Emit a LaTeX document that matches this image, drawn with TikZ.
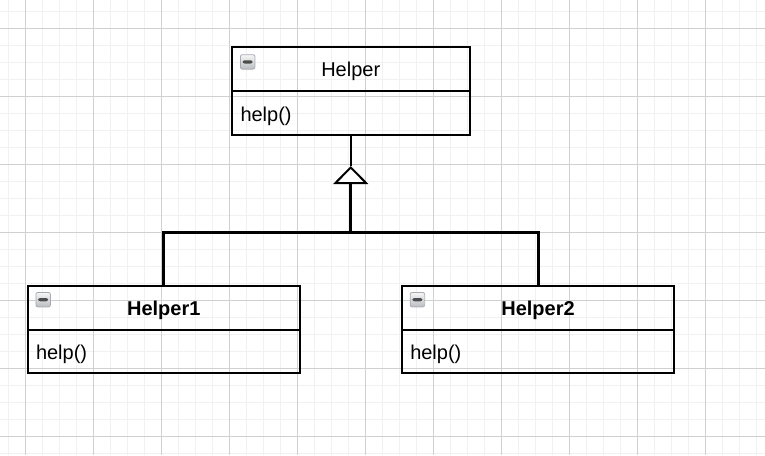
\documentclass[tikz,border=0pt]{standalone}
\usepackage{fontspec}
\setmainfont{Liberation Sans}
\usetikzlibrary{positioning,arrows.meta}
\pgfdeclarelayer{bg}
\pgfsetlayers{bg,main}
\definecolor{gridmajor}{HTML}{D0D0D0}
\definecolor{gridminor}{HTML}{F1F1F1}
\definecolor{icongray}{HTML}{A8ACB0}
\tikzset{
  classhead/.style={draw,line width=2pt,minimum width=#1,minimum height=44pt,inner sep=0pt,outer sep=0pt,
    text height=15pt,text depth=0pt,font=\fontsize{20}{23}\selectfont},
  classbody/.style={draw,line width=2pt,text width=#1,align=left,minimum height=43.5pt,inner xsep=8.5pt,
    inner ysep=0pt,outer sep=0pt,text height=16pt,text depth=0pt,font=\fontsize{20}{23}\selectfont},
  minusbox/.style={draw=icongray,line width=0.8pt,rounded corners=2pt,top color=white!90!icongray,bottom color=icongray!80,
    minimum size=14.5pt,inner sep=0pt,
    path picture={\fill[black!70] ([xshift=-5pt,yshift=-1.6pt]path picture bounding box.center)
      rectangle ([xshift=5pt,yshift=1.6pt]path picture bounding box.center);}},
  genline/.style={line width=3pt},
}

\begin{document}
\begin{tikzpicture}[x=1pt,y=-1pt]
\useasboundingbox (0,0) rectangle (765,455);
\begin{pgfonlayer}{bg}
  \fill[white] (0,0) rectangle (765,455);
  \foreach \x in {8.5,25.5,...,765} \draw[gridminor,line width=1.5pt] (\x,0) -- (\x,455);
  \foreach \y in {11.5,28.5,...,455} \draw[gridminor,line width=1.5pt] (0,\y) -- (765,\y);
  \foreach \x in {25.5,93.5,...,765} \draw[gridmajor,line width=1pt] (\x,0) -- (\x,455);
  \foreach \y in {28.5,96.5,...,455} \draw[gridmajor,line width=1pt] (0,\y) -- (765,\y);
\end{pgfonlayer}

\node[classhead=237.5pt] (helper-head) at (350.75,69.25) {Helper};
\node[classbody=220.5pt,minimum height=44pt,below=0pt of helper-head] (helper-body) {help()};
\node[minusbox,below right=7pt and 8pt of helper-head.north west] (helper-icon) {};

\node[classhead=272.5pt] (helper1-head) at (163.75,308) {\textbf{Helper1}};
\node[classbody=255.5pt,minimum height=43pt,below=0pt of helper1-head] (helper1-body) {help()};
\node[minusbox,below right=6pt and 8pt of helper1-head.north west] (helper1-icon) {};

\node[classhead=272.5pt] (helper2-head) at (538,308) {\textbf{Helper2}};
\node[classbody=255.5pt,minimum height=43pt,below=0pt of helper2-head] (helper2-body) {help()};
\node[minusbox,below right=6pt and 8pt of helper2-head.north west] (helper2-icon) {};

\coordinate (apex) at (350.75,166);
\coordinate (join) at (350.75,232.5);
\draw[line width=2pt] (helper-body.south) -- (apex);
\draw[genline,-{Triangle[open,fill=white,length=18pt,width=35pt,line width=2pt]}] (join) -- (apex);
\draw[genline] (helper1-head.north) |- (join) -| (helper2-head.north);
\end{tikzpicture}
\end{document}
